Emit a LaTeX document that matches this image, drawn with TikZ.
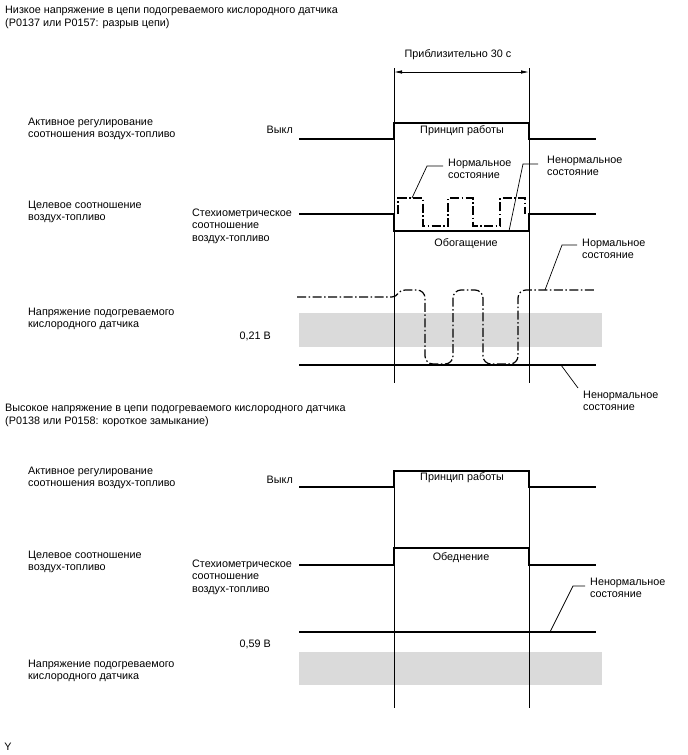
\documentclass[tikz,border=0pt]{standalone}
\usepackage{fontspec}
\setmainfont{Liberation Sans}
\usetikzlibrary{arrows.meta}
\begin{document}
\begin{tikzpicture}[x=1pt,y=-1pt,
 lbl/.style={font=\fontsize{10.8}{12.5}\selectfont, inner sep=0pt, align=left},
 sig/.style={line width=1.3pt, line join=miter},
 vline/.style={line width=0.6pt},
 dd/.style={line width=1.2pt, dash pattern=on 9pt off 2.5pt on 1.5pt off 2.5pt},
 lead/.style={line width=0.7pt},
 band/.style={fill={rgb,255:red,218;green,218;blue,218}, draw=none}]
\useasboundingbox[fill=white] (0,0) rectangle (688,755);

% ---------- gray bands ----------
\fill[band] (299,313) rectangle (602,347);
\fill[band] (299,652) rectangle (602,685);

% ---------- texts, upper diagram ----------
\node[lbl, anchor=north west] (t1) at (5,6) {Низкое напряжение в цепи подогреваемого кислородного датчика\\(P0137 или P0157: разрыв цепи)};
\node[lbl] (dur) at (458,55) {Приблизительно 30 с};
\node[lbl, anchor=north west] (acA) at (28,117.5) {Активное регулирование\\соотношения воздух-топливо};
\node[lbl, anchor=north east] (offA) at (293,125.5) {Выкл};
\node[lbl] (opA) at (462,131) {Принцип работы};
\node[lbl, anchor=north west] (normA) at (448,158.5) {Нормальное\\состояние};
\node[lbl, anchor=north west] (abnA) at (547,155.5) {Ненормальное\\состояние};
\node[lbl, anchor=north west] (tgA) at (28,200.5) {Целевое соотношение\\воздух-топливо};
\node[lbl, anchor=north west] (stA) at (192,208.5) {Стехиометрическое\\соотношение\\воздух-топливо};
\node[lbl] (rich) at (466,244) {Обогащение};
\node[lbl, anchor=north west] (normB) at (582,238.5) {Нормальное\\состояние};
\node[lbl, anchor=north west] (vsA) at (28,307.5) {Напряжение подогреваемого\\кислородного датчика};
\node[lbl, anchor=east] (v21) at (271,336) {0,21 В};
\node[lbl, anchor=north west] (abnB) at (583,390.5) {Ненормальное\\состояние};

% ---------- texts, lower diagram ----------
\node[lbl, anchor=north west] (t2) at (5,404) {Высокое напряжение в цепи подогреваемого кислородного датчика\\(P0138 или P0158: короткое замыкание)};
\node[lbl, anchor=north west] (acC) at (28,466.5) {Активное регулирование\\соотношения воздух-топливо};
\node[lbl, anchor=north east] (offC) at (293,475.5) {Выкл};
\node[lbl] (opC) at (462,478) {Принцип работы};
\node[lbl, anchor=north west] (tgC) at (28,550.5) {Целевое соотношение\\воздух-топливо};
\node[lbl, anchor=north west] (stC) at (192,559.5) {Стехиометрическое\\соотношение\\воздух-топливо};
\node[lbl] (lean) at (461,558) {Обеднение};
\node[lbl, anchor=north west] (abnC) at (590,577.5) {Ненормальное\\состояние};
\node[lbl, anchor=east] (v59) at (271,644) {0,59 В};
\node[lbl, anchor=north west] (vsC) at (28,659.5) {Напряжение подогреваемого\\кислородного датчика};
\node[lbl] (ymark) at (8,747) {Y};

% ---------- timing lines ----------
\coordinate (tL) at (394,72);
\coordinate (tR) at (529,72);
\draw[vline] (394,68) -- (394,383);
\draw[vline] (529,68) -- (529,383);
\draw[line width=0.8pt, {Latex[length=8pt,width=3.5pt]}-{Latex[length=8pt,width=3.5pt]}] (tL) -- (tR);
\draw[vline] (394,471) -- (394,708);
\draw[vline] (529,471) -- (529,708);

% ---------- upper signals ----------
\draw[sig] (299,139) -- (394,139) -- (394,123) -- (529,123) -- (529,139) -- (596,139);
\draw[sig] (299,214) -- (394,214) -- (394,231) -- (529,231) -- (529,214) -- (596,214);
\draw[dd] (398,214) -- (398,198) -- (423,198) -- (423,226) -- (448,226) -- (448,198) -- (473,198) -- (473,226) -- (500,226) -- (500,198) -- (525,198) -- (525,214);
\draw[dd] (297,297) -- (392,297) .. controls (398,297) and (398,290) .. (405,290)
  [rounded corners=8pt] -- (425,290) -- (425,364) -- (453,364) -- (453,290) -- (483,290) -- (483,364) -- (518,364) -- (518,290) -- (596,290);
\draw[sig] (299,365) -- (596,365);

% ---------- upper leaders ----------
\coordinate (pNA) at (412,198);
\coordinate (pAA) at (509,231);
\coordinate (pNB) at (545,290);
\coordinate (pAB) at (561,365);
\draw[lead] (pNA) -- (427,166) -- (443,166);
\draw[lead] (pAA) -- (523,164) -- (538,164);
\draw[lead] (pNB) -- (562,245) -- (577,245);
\draw[lead] (pAB) -- (578,388);

% ---------- lower signals ----------
\draw[sig] (299,487) -- (394,487) -- (394,471) -- (529,471) -- (529,487) -- (596,487);
\draw[sig] (299,565) -- (394,565) -- (394,548) -- (529,548) -- (529,565) -- (596,565);
\draw[sig] (299,632) -- (596,632);
\coordinate (pAC) at (550,632);
\draw[lead] (pAC) -- (573,586) -- (585,586);
\end{tikzpicture}
\end{document}
